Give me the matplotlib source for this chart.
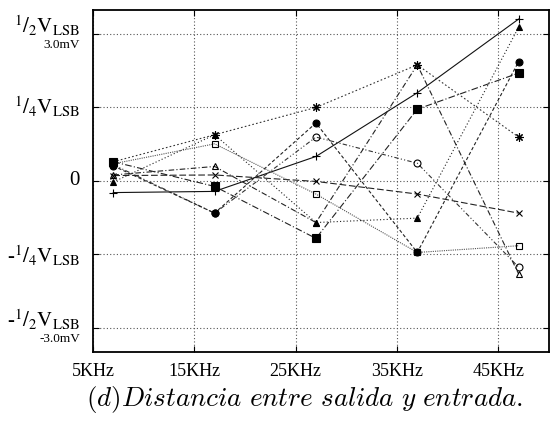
import matplotlib
matplotlib.use("Agg")
import matplotlib.pyplot as plt
import matplotlib.transforms as mtransforms

plt.rcParams['font.family'] = ['Liberation Serif', 'DejaVu Serif']
plt.rcParams['mathtext.fontset'] = 'stix'

# ── Data (amplitudes in units of V_LSB) ──────────────────────────────────────
freqs_khz = [7, 17, 27, 37, 47]

plus_vals     = [-0.040, -0.036, 0.083, 0.300, 0.551]
cross_vals    = [0.018, 0.020, -0.002, -0.045, -0.110]
star_vals     = [0.065, 0.157, 0.250, 0.395, 0.149]
osquare_vals  = [0.058, 0.126, -0.045, -0.244, -0.221]
fsquare_vals  = [0.065, -0.019, -0.196, 0.244, 0.367]
ocircle_vals  = [0.055, -0.110, 0.149, 0.060, -0.294]
fcircle_vals  = [0.051, -0.110, 0.197, -0.244, 0.406]
otri_vals     = [0.020, 0.049, -0.142, 0.395, -0.317]
ftri_vals     = [-0.004, 0.157, -0.142, -0.127, 0.523]

x_ticks = [5, 15, 25, 35, 45]
x_labels = ['5KHz', '15KHz', '25KHz', '35KHz', '45KHz']
y_ticks = [-0.5, -0.25, 0, 0.25, 0.5]
y_labels = ['-$^{1}/_{2}\\mathrm{V}_{\\mathrm{LSB}}$',
            '-$^{1}/_{4}\\mathrm{V}_{\\mathrm{LSB}}$',
            '0',
            '$^{1}/_{4}\\mathrm{V}_{\\mathrm{LSB}}$',
            '$^{1}/_{2}\\mathrm{V}_{\\mathrm{LSB}}$']
mv_labels = {0.5: '3.0mV', -0.5: '-3.0mV'}

series = [
    (plus_vals,    dict(marker='+', ms=6, mfc='none', ls='-',                      color='#111111')),
    (cross_vals,   dict(marker='x', ms=5, mfc='none', ls=(0, (6, 2.5)),           color='#222222')),
    (star_vals,    dict(marker=(8, 2, 0), ms=6, mfc='none', ls=(0, (1.5, 2)),     color='#333333')),
    (osquare_vals, dict(marker='s', ms=5, mfc='none', ls=(0, (1, 1)),             color='#555555')),
    (fsquare_vals, dict(marker='s', ms=6, mfc='black', ls=(0, (6, 2, 1, 2)),      color='#222222')),
    (ocircle_vals, dict(marker='o', ms=5, mfc='none', ls=(0, (4, 2, 1, 2, 1, 2)), color='#333333')),
    (fcircle_vals, dict(marker='o', ms=5, mfc='black', ls=(0, (3, 2)),            color='#222222')),
    (otri_vals,    dict(marker='^', ms=5, mfc='none', ls=(0, (5, 2, 1, 2)),       color='#222222')),
    (ftri_vals,    dict(marker='^', ms=4, mfc='black', ls=(0, (1, 2)),            color='#222222')),
]

fig = plt.figure(figsize=(5.51, 4.24), dpi=100)
ax = fig.add_axes([0.1688, 0.1705, 0.8276, 0.806])

for vals, style in series:
    ax.plot(freqs_khz, vals, lw=0.8, mec='black', mew=0.8, **style)

ax.set_xlim(5, 50)
ax.set_ylim(-0.582, 0.582)
ax.set_xticks(x_ticks)
ax.set_xticklabels(x_labels, fontsize=13)
ax.set_yticks(y_ticks)
ax.set_yticklabels([])

ax.tick_params(direction='in', length=4, width=0.8, top=True, right=True)
ax.tick_params(axis='x', pad=8)
ax.grid(True, ls=(0, (1, 2)), lw=0.8, color='#555555')
for sp in ax.spines.values():
    sp.set_linewidth(1.3)

# y labels drawn by hand so the half-LSB rows can carry a mV line underneath
trans = mtransforms.blended_transform_factory(fig.transFigure, ax.transData)
label_x = 80 / 551
for yv, txt in zip(y_ticks, y_labels):
    dy = 8 if abs(yv) == 0.5 else (-2 if yv == -0.25 else 0)
    t = mtransforms.offset_copy(trans, fig=fig, x=0, y=dy, units='dots')
    ax.text(label_x, yv, txt, transform=t, ha='right', va='center', fontsize=15)
for yv, txt in mv_labels.items():
    t = mtransforms.offset_copy(trans, fig=fig, x=0, y=-11, units='dots')
    ax.text(label_x, yv, txt, transform=t, ha='right', va='center', fontsize=9.5)

fig.text(305 / 551, 1 - 406 / 424, r'$(d)Distancia\ entre\ salida\ y\ entrada.$',
         ha='center', va='baseline', fontsize=19.5, math_fontfamily='cm')

fig.savefig('out.png', dpi=100)
